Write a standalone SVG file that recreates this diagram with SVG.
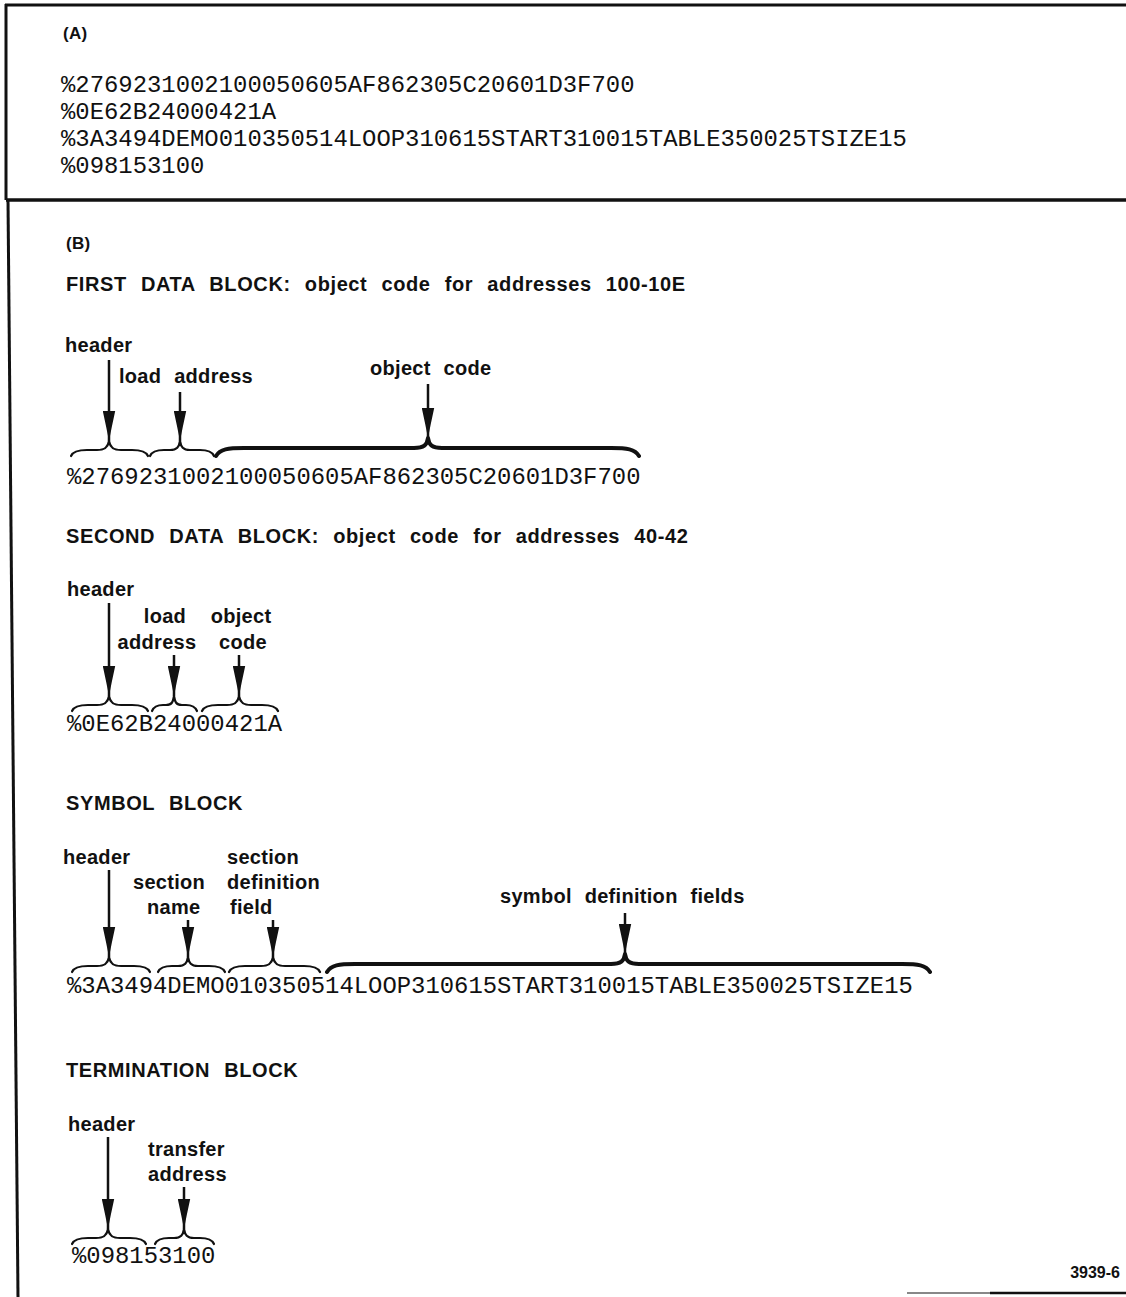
<svg xmlns="http://www.w3.org/2000/svg" width="1126" height="1297" viewBox="0 0 1126 1297">
<defs>
<style>
.lbl{font-family:"Liberation Sans",Arial,sans-serif;font-weight:bold;font-size:20px;letter-spacing:0.3px;word-spacing:7px;fill:#111}
.ttl{font-family:"Liberation Sans",Arial,sans-serif;font-weight:bold;font-size:20px;letter-spacing:0.6px;word-spacing:8px;fill:#111}
.code{font-family:"Liberation Mono","Courier New",monospace;font-size:23.9px;fill:#111}
.frame{stroke:#111;stroke-width:3;fill:none}
.br{stroke:#111;stroke-width:2.2;fill:none;stroke-linecap:round;stroke-linejoin:round}
.bbr{stroke:#111;stroke-width:4;fill:none;stroke-linecap:round;stroke-linejoin:round}
.arr{stroke:#111;stroke-width:2.5;fill:none;marker-end:url(#ah)}
</style>
<marker id="ah" markerUnits="userSpaceOnUse" viewBox="0 0 30 13" markerWidth="30" markerHeight="13" refX="30" refY="6.5" orient="auto">
<path d="M0,0.3 Q16,3.8 30,6.5 Q16,9.2 0,12.7 Z" fill="#111"/>
</marker>
</defs>

<g id="frame">
<line class="frame" x1="5" y1="5" x2="1126" y2="5"/>
<line class="frame" x1="6" y1="4" x2="6" y2="200"/>
<line class="frame" x1="6" y1="200" x2="1126" y2="200" style="stroke-width:3.5"/>
<line class="frame" x1="8" y1="200" x2="18" y2="1297"/>
<line x1="907" y1="1293" x2="990" y2="1293" stroke="#888" stroke-width="2"/>
<line x1="990" y1="1293" x2="1126" y2="1293" stroke="#111" stroke-width="2.5"/>
</g>

<g id="panelA">
<text class="lbl" x="63" y="39" style="font-size:17px">(A)</text>
<text class="code" x="61" y="92">%2769231002100050605AF862305C20601D3F700</text>
<text class="code" x="61" y="119">%0E62B24000421A</text>
<text class="code" x="61" y="146">%3A3494DEMO010350514LOOP310615START310015TABLE350025TSIZE15</text>
<text class="code" x="61" y="173">%098153100</text>
</g>

<g id="panelB-label">
<text class="lbl" x="66" y="249" style="font-size:17px">(B)</text>
</g>

<g id="first-block">
<text class="ttl" x="66" y="291">FIRST DATA BLOCK: object code for addresses 100-10E</text>
<text class="lbl" x="65" y="352">header</text>
<text class="lbl" x="119" y="383">load address</text>
<text class="lbl" x="370" y="375">object code</text>
<path class="br" d="M71,456 C73,451 79,450 87,450 L97,450 C105,450 108,447 109,441 C110,447 113,450 121,450 L132,450 C140,450 146,451 148,456"/>
<path class="br" d="M150,456 C152,451 157,450 164,450 L170,450 C177,450 179,447 180,441 C181,447 183,450 190,450 L200,450 C207,450 212,451 214,456"/>
<path class="bbr" d="M216,456 C220,449 228,448 244,448 L414,448 C424,448 427,445 428,438 C429,445 432,448 442,448 L611,448 C627,448 635,449 639,456"/>
<text class="code" x="67" y="484">%2769231002100050605AF862305C20601D3F700</text>
</g>

<g id="second-block">
<text class="ttl" x="66" y="543">SECOND DATA BLOCK: object code for addresses 40-42</text>
<text class="lbl" x="67" y="596">header</text>
<text class="lbl" x="165" y="623" text-anchor="middle">load</text>
<text class="lbl" x="241" y="623" text-anchor="middle">object</text>
<text class="lbl" x="157" y="649" text-anchor="middle">address</text>
<text class="lbl" x="243" y="649" text-anchor="middle">code</text>
<path class="br" d="M72,711 C74,706 80,705 88,705 L97,705 C105,705 108,702 109,696 C110,702 113,705 121,705 L132,705 C140,705 146,706 148,711"/>
<path class="br" d="M152,711 C154,706 158,705 163,705 L166,705 C172,705 173,702 174,696 C175,702 176,705 182,705 L186,705 C191,705 195,706 197,711"/>
<path class="br" d="M202,711 C204,706 210,705 218,705 L227,705 C235,705 238,702 239,696 C240,702 243,705 251,705 L262,705 C270,705 276,706 278,711"/>
<text class="code" x="67" y="731">%0E62B24000421A</text>
</g>

<g id="symbol-block">
<text class="ttl" x="66" y="810">SYMBOL BLOCK</text>
<text class="lbl" x="63" y="864">header</text>
<text class="lbl" x="227" y="864">section</text>
<text class="lbl" x="133" y="889">section</text>
<text class="lbl" x="227" y="889">definition</text>
<text class="lbl" x="147" y="914">name</text>
<text class="lbl" x="230" y="914">field</text>
<text class="lbl" x="500" y="903">symbol definition fields</text>
<path class="br" d="M72,972 C74,967 80,966 88,966 L97,966 C105,966 108,963 109,957 C110,963 113,966 121,966 L134,966 C142,966 148,967 150,972"/>
<path class="br" d="M158,972 C160,967 165,966 172,966 L178,966 C185,966 187,963 188,957 C189,963 191,966 198,966 L209,966 C216,966 223,967 225,972"/>
<path class="br" d="M229,972 C231,967 237,966 245,966 L261,966 C269,966 272,963 273,957 C274,963 277,966 285,966 L304,966 C312,966 318,967 320,972"/>
<path class="bbr" d="M327,972 C331,965 339,964 355,964 L611,964 C621,964 624,961 625,954 C626,961 629,964 639,964 L902,964 C918,964 926,965 930,972"/>
<text class="code" x="67" y="993">%3A3494DEMO010350514LOOP310615START310015TABLE350025TSIZE15</text>
</g>

<g id="termination-block">
<text class="ttl" x="66" y="1077">TERMINATION BLOCK</text>
<text class="lbl" x="68" y="1131">header</text>
<text class="lbl" x="148" y="1156">transfer</text>
<text class="lbl" x="148" y="1181">address</text>
<path class="br" d="M72,1244 C74,1239 80,1238 88,1238 L96,1238 C104,1238 107,1235 108,1229 C109,1235 112,1238 120,1238 L130,1238 C138,1238 144,1239 146,1244"/>
<path class="br" d="M155,1244 C157,1239 162,1238 169,1238 L174,1238 C181,1238 183,1235 184,1229 C185,1235 187,1238 194,1238 L200,1238 C207,1238 212,1239 214,1244"/>
<text class="code" x="72" y="1263">%098153100</text>
</g>

<g id="connectors">
<line class="arr" x1="109" y1="360" x2="109" y2="441"/>
<line class="arr" x1="180" y1="392" x2="180" y2="441"/>
<line class="arr" x1="428" y1="384" x2="428" y2="438"/>
<line class="arr" x1="109" y1="603" x2="109" y2="696"/>
<line class="arr" x1="174" y1="655" x2="174" y2="696"/>
<line class="arr" x1="239" y1="655" x2="239" y2="696"/>
<line class="arr" x1="109" y1="870" x2="109" y2="957"/>
<line class="arr" x1="188" y1="920" x2="188" y2="957"/>
<line class="arr" x1="273" y1="920" x2="273" y2="957"/>
<line class="arr" x1="625" y1="913" x2="625" y2="954"/>
<line class="arr" x1="108" y1="1137" x2="108" y2="1229"/>
<line class="arr" x1="184" y1="1187" x2="184" y2="1229"/>
</g>

<g id="figure-number">
<text x="1120" y="1278" text-anchor="end" style="font-family:'Liberation Sans',Arial,sans-serif;font-weight:bold;font-size:16px;fill:#111">3939-6</text>
</g>
</svg>
